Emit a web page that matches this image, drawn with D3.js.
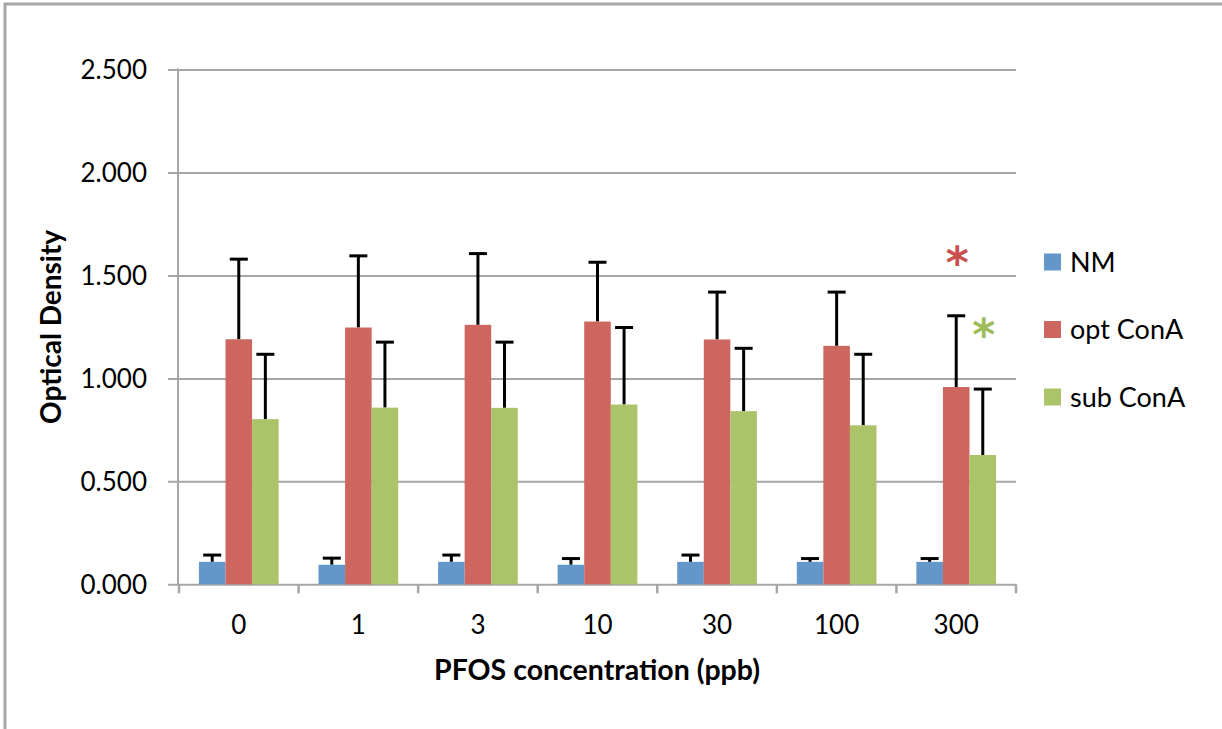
<!DOCTYPE html>
<html>
<head>
<meta charset="utf-8">
<script src="https://cdn.jsdelivr.net/npm/d3@7"></script>
<style>
  html, body { margin: 0; padding: 0; background: #fff; }
  svg { display: block; font-family: Lato, "Open Sans", sans-serif; }
</style>
</head>
<body>
<svg id="chart" width="1222" height="729"></svg>
<script>
// PFOS exposure: optical density per concentration group
const concentrations = ["0", "1", "3", "10", "30", "100", "300"];
const seriesNames = ["NM", "opt ConA", "sub ConA"];

const nmMean      = [0.109, 0.095, 0.109, 0.095, 0.109, 0.109, 0.109];
const nmErr       = [0.033, 0.032, 0.033, 0.030, 0.033, 0.016, 0.016];
const optConAMean = [1.190, 1.247, 1.260, 1.276, 1.189, 1.158, 0.958];
const optConAErr  = [0.389, 0.348, 0.346, 0.288, 0.230, 0.261, 0.346];
const subConAMean = [0.802, 0.858, 0.857, 0.873, 0.841, 0.772, 0.628];
const subConAErr  = [0.315, 0.318, 0.319, 0.374, 0.305, 0.345, 0.320];

const yTicks = [0, 0.5, 1.0, 1.5, 2.0, 2.5];

// significance markers: [category, series, height]
const markers = [
  { cat: "300", series: "opt ConA", y: 1.589 },
  { cat: "300", series: "sub ConA", y: 1.240 }
];

const colors = { "NM": "#6397c9", "opt ConA": "#cd665f", "sub ConA": "#abc46a" };
const markerColors = { "opt ConA": "#c9504c", "sub ConA": "#9dbd5a" };

const means = { "NM": nmMean, "opt ConA": optConAMean, "sub ConA": subConAMean };
const errs  = { "NM": nmErr,  "opt ConA": optConAErr,  "sub ConA": subConAErr };

const rows = [];
concentrations.forEach((c, i) => {
  seriesNames.forEach(s => rows.push({ cat: c, series: s, value: means[s][i], err: errs[s][i] }));
});

const font = "Lato, 'Open Sans', sans-serif";
const svg = d3.select("#chart");
const gridColor = "#a6a6a6";

// chart frame
svg.append("rect")
  .attr("x", 5).attr("y", 4)
  .attr("width", 1300).attr("height", 800)
  .attr("fill", "none").attr("stroke", gridColor).attr("stroke-width", 3);

const plotLeft = 178, plotRight = 1016, plotTop = 69.5, plotBottom = 584.3;

const x0 = d3.scaleBand().domain(concentrations).range([plotLeft + 1, plotRight]).padding(0);
const x1 = d3.scaleBand().domain(seriesNames).range([0, x0.bandwidth()])
  .paddingInner(0).paddingOuter(0.75);
const y = d3.scaleLinear().domain([0, 2.5]).range([plotBottom, plotTop]);

// y axis with gridlines
const yAxis = d3.axisLeft(y)
  .tickValues(yTicks)
  .tickFormat(d3.format(".3f"))
  .tickSizeInner(-(plotRight - 168))
  .tickSizeOuter(0)
  .tickPadding(21);

const gy = svg.append("g").attr("transform", `translate(168,0)`).call(yAxis)
  .attr("font-family", font).attr("font-size", 26);
gy.select(".domain").remove();
gy.selectAll(".tick line").attr("stroke", gridColor).attr("stroke-width", 2);
gy.selectAll(".tick text")
  .attr("fill", "#000")
  .attr("dy", "0.36em");

// vertical axis line
svg.append("line")
  .attr("x1", plotLeft).attr("x2", plotLeft)
  .attr("y1", y(2.5) - 1).attr("y2", y(0) + 1)
  .attr("stroke", gridColor).attr("stroke-width", 2);

// x axis: category labels at band centres
const xAxis = d3.axisBottom(x0).tickSize(0).tickPadding(31);
const gx = svg.append("g").attr("transform", `translate(0,${plotBottom})`).call(xAxis)
  .attr("font-family", font).attr("font-size", 26);
gx.select(".domain").remove();
gx.selectAll(".tick text").attr("fill", "#000");

// boundary tick marks between categories
const boundaries = concentrations.map(c => x0(c)).concat([x0.range()[1]]);
svg.append("g").selectAll("line").data(boundaries).join("line")
  .attr("x1", d => d).attr("x2", d => d)
  .attr("y1", plotBottom).attr("y2", plotBottom + 9)
  .attr("stroke", gridColor).attr("stroke-width", 2.5);

// error bars (upper only)
const eb = svg.append("g");
rows.forEach(r => {
  const cx = x0(r.cat) + x1(r.series) + x1.bandwidth() / 2;
  eb.append("line")
    .attr("x1", cx).attr("x2", cx)
    .attr("y1", y(r.value)).attr("y2", y(r.value + r.err))
    .attr("stroke", "#000").attr("stroke-width", 3);
  eb.append("line")
    .attr("x1", cx - 9).attr("x2", cx + 9)
    .attr("y1", y(r.value + r.err)).attr("y2", y(r.value + r.err))
    .attr("stroke", "#000").attr("stroke-width", 3);
});

// bars
svg.append("g").selectAll("rect").data(rows).join("rect")
  .attr("x", d => x0(d.cat) + x1(d.series))
  .attr("y", d => y(d.value))
  .attr("width", x1.bandwidth())
  .attr("height", d => y(0) - y(d.value))
  .attr("fill", d => colors[d.series]);

// significance asterisks
svg.append("g").selectAll("text").data(markers).join("text")
  .attr("x", d => x0(d.cat) + x1(d.series) + x1.bandwidth() / 2 + 1)
  .attr("y", d => y(d.y))
  .attr("text-anchor", "middle")
  .attr("dy", "0.47em")
  .attr("fill", d => markerColors[d.series])
  .style("font-family", "'DejaVu Sans', sans-serif")
  .style("font-weight", "bold")
  .style("font-size", "44px")
  .text("*");

// axis titles
svg.append("text")
  .attr("x", (plotLeft + plotRight) / 2)
  .attr("y", 680)
  .attr("text-anchor", "middle")
  .style("font-size", "28.5px")
  .style("font-weight", "bold")
  .text("PFOS concentration (ppb)");

svg.append("text")
  .attr("transform", `translate(61,${(plotTop + plotBottom) / 2}) rotate(-90)`)
  .attr("text-anchor", "middle")
  .style("font-size", "28px")
  .style("font-weight", "bold")
  .text("Optical Density");

// legend
const legend = svg.append("g").selectAll("g").data(seriesNames).join("g")
  .attr("transform", (d, i) => `translate(1044,${253.5 + i * 67.5})`);
legend.append("rect")
  .attr("width", 17).attr("height", 17)
  .attr("fill", d => colors[d]);
legend.append("text")
  .attr("x", 26).attr("y", 8.5)
  .attr("dy", "0.36em")
  .style("font-size", "27px")
  .text(d => d);
</script>
</body>
</html>
